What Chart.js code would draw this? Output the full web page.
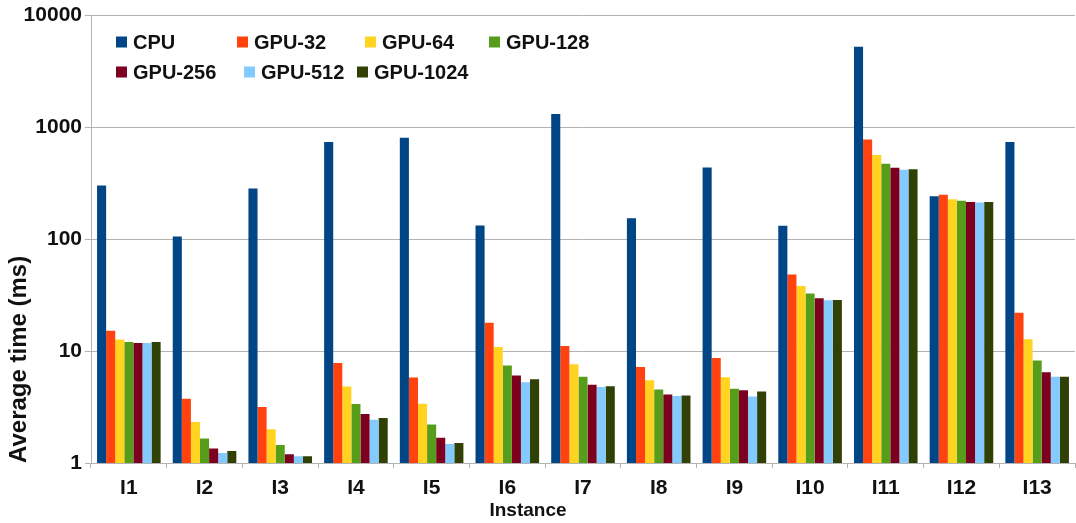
<!DOCTYPE html>
<html>
<head>
<meta charset="utf-8">
<title>Average time per instance</title>
<script src="https://cdn.jsdelivr.net/npm/chart.js@4/dist/chart.umd.min.js"></script>
<style>
  html, body { margin: 0; padding: 0; background: #ffffff; }
  #wrap { width: 1076px; height: 523px; }
</style>
</head>
<body>
<div id="wrap"><canvas id="chart" width="1076" height="523"></canvas></div>
<script>
// Instances on the x axis
const categories = ['I1', 'I2', 'I3', 'I4', 'I5', 'I6', 'I7', 'I8', 'I9', 'I10', 'I11', 'I12', 'I13'];

// Average time (ms) per instance for each configuration
const cpu     = [302, 106, 284, 743, 807, 133, 1318, 154, 439, 132, 5270, 243, 743];
const gpu32   = [15.2, 3.76, 3.17, 7.85, 5.81, 17.9, 11.1, 7.23, 8.7, 48.5, 780, 250, 22.1];
const gpu64   = [12.7, 2.33, 2.0, 4.83, 3.39, 10.9, 7.63, 5.5, 5.85, 38.2, 566, 228, 12.8];
const gpu128  = [12.1, 1.66, 1.45, 3.37, 2.21, 7.43, 5.89, 4.55, 4.61, 32.7, 474, 221, 8.23];
const gpu256  = [11.8, 1.35, 1.2, 2.74, 1.68, 6.06, 5.0, 4.1, 4.46, 29.7, 436, 216, 6.48];
const gpu512  = [11.8, 1.23, 1.15, 2.43, 1.48, 5.28, 4.77, 3.97, 3.94, 28.5, 419, 213, 5.89];
const gpu1024 = [12.1, 1.28, 1.15, 2.53, 1.51, 5.62, 4.86, 4.02, 4.36, 28.7, 422, 215, 5.89];

// Decade ticks of the logarithmic axis
const yTicks = [1, 10, 100, 1000, 10000];

const seriesNames  = ['CPU', 'GPU-32', 'GPU-64', 'GPU-128', 'GPU-256', 'GPU-512', 'GPU-1024'];
const seriesValues = [cpu, gpu32, gpu64, gpu128, gpu256, gpu512, gpu1024];
const seriesColors = ['#004586', '#ff420e', '#ffd320', '#579d1c', '#7e0021', '#83caff', '#314004'];

const FONT = "'Liberation Sans', Arial, sans-serif";
const GRID = '#b3b3b3';
const INK = '#111111';

// Two-row legend drawn inside the plot area
const legendLayout = [
  { x: 116, y: 42 }, { x: 237, y: 42 }, { x: 365, y: 42 }, { x: 489, y: 42 },
  { x: 116, y: 72 }, { x: 244, y: 72 }, { x: 357, y: 72 }
];

const insideLegend = {
  id: 'insideLegend',
  afterDraw(chart) {
    const ctx = chart.ctx;
    ctx.save();
    ctx.font = 'bold 20px ' + FONT;
    ctx.textBaseline = 'middle';
    ctx.textAlign = 'left';
    chart.data.datasets.forEach((ds, i) => {
      const pos = legendLayout[i];
      ctx.fillStyle = ds.backgroundColor;
      ctx.fillRect(pos.x, pos.y - 5.5, 11, 11);
      ctx.fillStyle = INK;
      ctx.fillText(ds.label, pos.x + 17, pos.y + 1);
    });
    ctx.restore();
  }
};

// Bottom axis title
const xTitle = {
  id: 'xTitle',
  afterDraw(chart) {
    const ctx = chart.ctx;
    ctx.save();
    ctx.font = 'bold 19px ' + FONT;
    ctx.textBaseline = 'middle';
    ctx.textAlign = 'center';
    ctx.fillStyle = INK;
    ctx.fillText('Instance', 528, 511);
    ctx.restore();
  }
};

new Chart(document.getElementById('chart'), {
  type: 'bar',
  data: {
    labels: categories,
    datasets: seriesNames.map((name, i) => ({
      label: name,
      data: seriesValues[i],
      backgroundColor: seriesColors[i],
      borderWidth: 0,
      categoryPercentage: 0.84,
      barPercentage: 1.0
    }))
  },
  options: {
    responsive: false,
    animation: false,
    layout: { padding: { left: 0, top: 13, right: 1, bottom: 0 } },
    plugins: {
      legend: { display: false },
      tooltip: { enabled: false },
      title: { display: false }
    },
    scales: {
      x: {
        grid: {
          offset: true,
          drawOnChartArea: false,
          drawTicks: true,
          tickLength: 5,
          color: GRID
        },
        border: { display: true, color: GRID },
        ticks: {
          color: INK,
          font: { family: FONT, size: 21, weight: 'bold' },
          padding: 8,
          maxRotation: 0,
          autoSkip: false
        },
        afterFit(scale) { scale.height = 60; }
      },
      y: {
        type: 'logarithmic',
        min: 1,
        max: 10000,
        afterBuildTicks(scale) {
          scale.ticks = yTicks.map(v => ({ value: v, major: true }));
        },
        grid: { color: GRID, tickLength: 6, drawTicks: true },
        border: { display: true, color: GRID },
        ticks: {
          color: INK,
          font: { family: FONT, size: 21, weight: 'bold' },
          padding: 3,
          callback: (v) => String(v)
        },
        title: {
          display: true,
          text: 'Average time (ms)',
          align: 'start',
          color: INK,
          font: { family: FONT, size: 24, weight: 'bold' },
          padding: { top: 5, bottom: 0 }
        },
        afterFit(scale) { scale.width = 91; }
      }
    }
  },
  plugins: [insideLegend, xTitle]
});
</script>
</body>
</html>
